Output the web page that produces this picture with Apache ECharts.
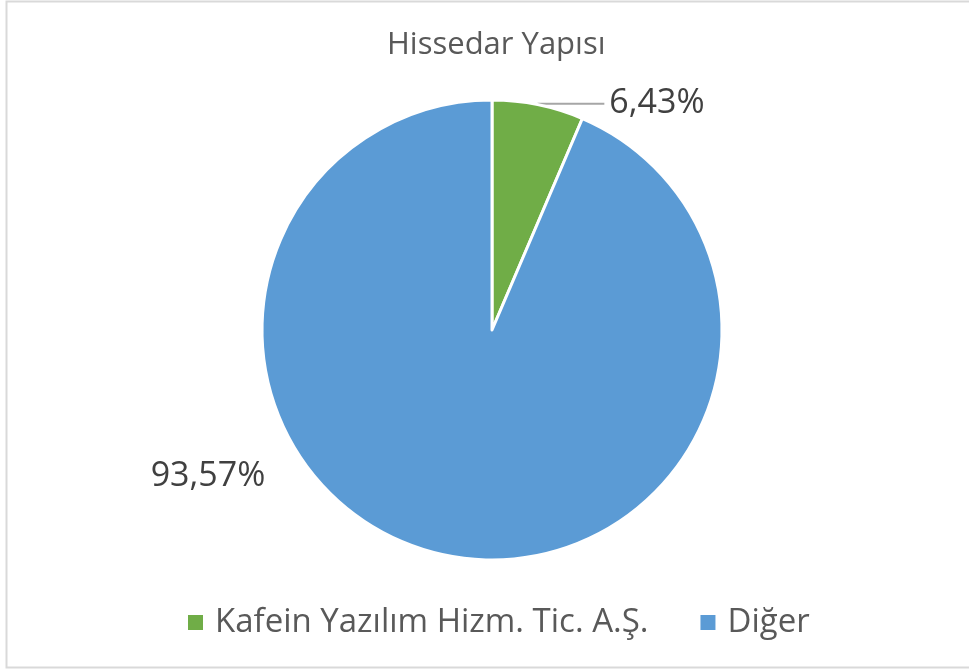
<!DOCTYPE html>
<html>
<head>
<meta charset="utf-8">
<style>
  html, body { margin: 0; padding: 0; background: #fff; }
  #chart { width: 969px; height: 670px; }
</style>
<script src="https://cdn.jsdelivr.net/npm/echarts@6/dist/echarts.min.js"></script>
</head>
<body>
<div id="chart"></div>
<script>
// Hissedar yapısı verisi
const categories = ['Kafein Yazılım Hizm. Tic. A.Ş.', 'Diğer'];
const shares = [6.43, 93.57];
const colors = ['#70AD47', '#5B9BD5'];

const font = '"Open Sans", "Noto Sans", sans-serif';

function setChart() {
    let myChart = echarts.init(document.querySelector('#chart'));
    let option = {
        color: colors,
        animation: false,
        title: {
            text: 'Hissedar Yapısı',
            left: 382,
            top: 25,
            textStyle: {
                fontFamily: font,
                fontSize: 31,
                fontWeight: 'normal',
                color: '#595959'
            }
        },
        graphic: [{
            type: 'rect',
            shape: { x: 6.5, y: 1.5, width: 1000, height: 666 },
            style: { fill: 'none', stroke: '#d9d9d9', lineWidth: 2 },
            silent: true
        }],
        legend: {
            data: categories,
            left: 181,
            top: 601,
            icon: 'rect',
            itemWidth: 17,
            itemHeight: 17,
            itemGap: 50,
            textStyle: {
                fontFamily: font,
                fontSize: 33,
                color: '#595959',
                padding: [0, 0, 0, 6]
            }
        },
        series: [{
            type: 'pie',
            center: [492, 330],
            radius: 230,
            startAngle: 90,
            clockwise: true,
            itemStyle: { borderColor: '#fff', borderWidth: 3 },
            label: {
                show: true,
                position: 'outside',
                fontFamily: font,
                fontSize: 34,
                color: '#404040',
                formatter: (p) => p.value.toFixed(2).replace('.', ',') + '%'
            },
            labelLine: {
                show: true,
                length: 1,
                length2: 66,
                lineStyle: { color: '#a6a6a6', width: 2 }
            },
            labelLayout: (params) => {
                if (params.dataIndex === 1) {
                    return { x: 208, y: 476, align: 'center', verticalAlign: 'middle' };
                }
            },
            data: categories.map((name, i) => ({
                name: name,
                value: shares[i],
                labelLine: { show: i === 0 }
            }))
        }]
    };
    myChart.setOption(option);
}

setChart();
</script>
</body>
</html>
